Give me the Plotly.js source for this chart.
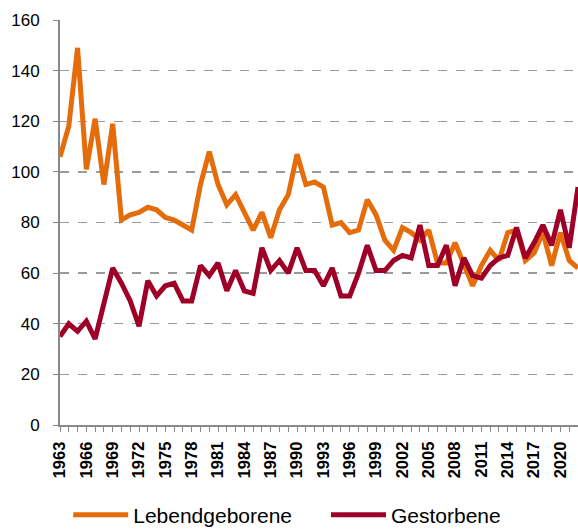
<!DOCTYPE html>
<html>
<head>
<meta charset="utf-8">
<script src="https://cdn.plot.ly/plotly-3.0.1.min.js"></script>
<style>html,body{margin:0;padding:0;background:#fff;}#chart{width:578px;height:530px;}</style>
</head>
<body>
<div id="chart"></div>
<script>
var years = [];
for (var y = 1963; y <= 2022; y++) years.push(y);

var lebendgeborene = [106, 118, 149, 101, 121, 95, 119, 81, 83, 84, 86, 85, 82, 81, 79, 77, 95, 108, 95, 87,
  91, 84, 77, 84, 74, 85, 91, 107, 95, 96, 94, 79, 80, 76, 77, 89, 83, 73, 69, 78,
  76, 73, 77, 64, 64, 72, 63, 55, 63, 69, 65, 76, 77, 65, 68, 76, 63, 76, 65, 62];

var gestorbene = [35, 40, 37, 41, 34, 48, 62, 56, 49, 39, 57, 51, 55, 56, 49, 49, 63, 59, 64, 53,
  61, 53, 52, 70, 61, 65, 60, 70, 61, 61, 55, 62, 51, 51, 60, 71, 61, 61, 65, 67,
  66, 79, 63, 63, 71, 55, 66, 59, 58, 63, 66, 67, 78, 66, 72, 79, 71, 85, 70, 94];

var seriesNames = ["Lebendgeborene", "Gestorbene"];
var tickYears = [];
for (var t = 1963; t <= 2020; t += 3) tickYears.push(t);

var traces = [
  {x: years, y: lebendgeborene, name: seriesNames[0], type: "scatter", mode: "lines",
   line: {color: "#E46C0A", width: 5}, legend: "legend"},
  {x: years, y: gestorbene, name: seriesNames[1], type: "scatter", mode: "lines",
   line: {color: "#9E0027", width: 5}, legend: "legend2"}
];

var legendBase = {orientation: "h", xref: "container", xanchor: "left",
  yref: "container", y: 0.028, yanchor: "middle",
  font: {size: 21, color: "#000"}, itemwidth: 55};

var layout = {
  width: 578, height: 530,
  margin: {l: 60, r: 0, t: 20, b: 105},
  paper_bgcolor: "#fff", plot_bgcolor: "#fff",
  font: {family: "Liberation Sans, Arial, sans-serif", color: "#000"},
  showlegend: true,
  legend: Object.assign({}, legendBase, {x: 0.118}),
  legend2: Object.assign({}, legendBase, {x: 0.564}),
  xaxis: {
    range: [1963, 2022], tickmode: "array", tickvals: tickYears, ticktext: tickYears.map(function(v){return "<b>" + v + "</b>";}),
    tickangle: -90, tickfont: {size: 16.5, color: "#000"},
    ticks: "outside", ticklen: 5, tickcolor: "#888", tickwidth: 1,
    ticklabelstandoff: 3,
    minor: {dtick: 1, tick0: 1963, ticks: "outside", ticklen: 5, tickcolor: "#888", tickwidth: 1, showgrid: false},
    showline: true, linecolor: "#888", linewidth: 2,
    showgrid: false, zeroline: false, fixedrange: true
  },
  yaxis: {
    range: [0, 160], dtick: 20, tick0: 0,
    tickfont: {size: 17, color: "#000"},
    ticks: "outside", ticklen: 5, tickcolor: "#888", tickwidth: 1,
    ticklabelstandoff: 10,
    showline: true, linecolor: "#888", linewidth: 2,
    showgrid: true, gridcolor: "#9a9a9a", gridwidth: 1.3, griddash: "dash",
    zeroline: false, fixedrange: true
  }
};

Plotly.newPlot("chart", traces, layout, {displayModeBar: false, staticPlot: true});
</script>
</body>
</html>
